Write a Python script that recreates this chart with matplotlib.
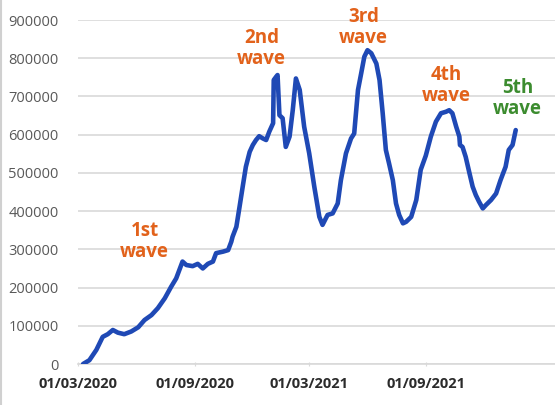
import matplotlib.pyplot as plt
from matplotlib.lines import Line2D
import pandas as pd

# Daily cases curve
dates = [
    "2020-03-09", "2020-03-19", "2020-03-30", "2020-04-09", "2020-04-17", "2020-04-25",
    "2020-05-03", "2020-05-13", "2020-05-24", "2020-06-04", "2020-06-14", "2020-06-25",
    "2020-07-05", "2020-07-16", "2020-07-26", "2020-08-03", "2020-08-08", "2020-08-13",
    "2020-08-19", "2020-08-29", "2020-09-06", "2020-09-14", "2020-09-22", "2020-09-30",
    "2020-10-05", "2020-10-16", "2020-10-24", "2020-10-29", "2020-10-31", "2020-11-06",
    "2020-11-11", "2020-11-16", "2020-11-21", "2020-11-27", "2020-12-02", "2020-12-07",
    "2020-12-12", "2020-12-18", "2020-12-23", "2020-12-28", "2021-01-03", "2021-01-04",
    "2021-01-08", "2021-01-10", "2021-01-13", "2021-01-18", "2021-01-23", "2021-01-29",
    "2021-02-03", "2021-02-08", "2021-02-14", "2021-02-21", "2021-03-01", "2021-03-09",
    "2021-03-17", "2021-03-22", "2021-03-30", "2021-04-07", "2021-04-15", "2021-04-20",
    "2021-04-28", "2021-05-06", "2021-05-11", "2021-05-17", "2021-05-22", "2021-05-27",
    "2021-06-01", "2021-06-07", "2021-06-15", "2021-06-20", "2021-06-25", "2021-06-30",
    "2021-07-05", "2021-07-11", "2021-07-16", "2021-07-21", "2021-07-27", "2021-08-01",
    "2021-08-09", "2021-08-17", "2021-08-24", "2021-09-01", "2021-09-09", "2021-09-17",
    "2021-09-25", "2021-10-03", "2021-10-08", "2021-10-13", "2021-10-19", "2021-10-24",
    "2021-10-25", "2021-10-29", "2021-11-03", "2021-11-09", "2021-11-14", "2021-11-19",
    "2021-11-24", "2021-11-30", "2021-12-05", "2021-12-13", "2021-12-21", "2021-12-28",
    "2022-01-05", "2022-01-10", "2022-01-16", "2022-01-21",
]
cases = [
    0, 10000, 37000, 71000, 78000, 89000,
    82000, 78000, 85000, 96000, 115000, 128000,
    146000, 172000, 202000, 224000, 246000, 268000,
    259000, 256000, 262000, 250000, 262000, 268000,
    290000, 294000, 298000, 320000, 333000, 359000,
    411000, 464000, 516000, 555000, 573000, 586000,
    596000, 590000, 586000, 608000, 630000, 743000,
    752000, 756000, 651000, 643000, 568000, 595000,
    664000, 747000, 717000, 621000, 551000, 464000,
    385000, 364000, 390000, 394000, 420000, 481000,
    551000, 590000, 603000, 717000, 760000, 804000,
    821000, 813000, 786000, 743000, 656000, 560000,
    525000, 481000, 420000, 390000, 368000, 372000,
    385000, 429000, 508000, 545000, 595000, 634000,
    656000, 660000, 664000, 656000, 621000, 595000,
    573000, 568000, 542000, 499000, 464000, 442000,
    425000, 407000, 416000, 429000, 446000, 481000,
    516000, 560000, 573000, 612000,
]

# wave labels: text, anchor date, anchor value, colour
wave_text = ["1st\nwave", "2nd\nwave", "3rd\nwave", "4th\nwave", "5th\nwave"]
wave_date = ["2020-06-14", "2020-12-16", "2021-05-26", "2021-10-04", "2022-01-24"]
wave_value = [320000, 825000, 880000, 728000, 695000]
wave_color = ["#E2621B", "#E2621B", "#E2621B", "#E2621B", "#3C8C2F"]

xtick_dates = ["2020-03-01", "2020-09-01", "2021-03-01", "2021-09-01"]
xtick_labels = ["01/03/2020", "01/09/2020", "01/03/2021", "01/09/2021"]
yticks = [0, 100000, 200000, 300000, 400000, 500000, 600000, 700000, 800000, 900000]

plt.rcParams['font.family'] = ['Open Sans', 'DejaVu Sans']

fig = plt.figure(figsize=(5.55, 4.05), dpi=100)
ax = fig.add_axes([78 / 555, 41 / 405, 1 - 78 / 555, 344 / 405])

ax.plot(pd.to_datetime(dates), cases, color='#1F49B5', linewidth=3.3,
        solid_joinstyle='round', solid_capstyle='round', zorder=3)

for txt, d, v, c in zip(wave_text, wave_date, wave_value, wave_color):
    ax.text(pd.Timestamp(d), v, txt, color=c, fontsize=13.5, fontweight='bold',
            ha='center', va='center', linespacing=1.1, zorder=4)

ax.set_ylim(0, 900000)
ax.set_xlim(pd.Timestamp("2020-03-03"), pd.Timestamp("2022-03-24"))
ax.set_yticks(yticks)
ax.set_yticklabels([str(v) for v in yticks])
ax.set_xticks(pd.to_datetime(xtick_dates))
ax.set_xticklabels(xtick_labels)

ax.grid(axis='y', color='#D9D9D9', linewidth=1.2)
ax.set_axisbelow(True)
for side in ['left', 'right', 'top']:
    ax.spines[side].set_visible(False)
ax.spines['bottom'].set_color('#D9D9D9')
ax.spines['bottom'].set_linewidth(1.2)

ax.tick_params(axis='y', length=0, pad=14, labelsize=10.5, labelcolor='#595959')
ax.tick_params(axis='x', length=3, direction='inout', color='#D9D9D9', pad=8,
               labelsize=10.5, labelcolor='#2B2B2B')
for lbl in ax.get_xticklabels():
    lbl.set_fontweight('bold')

# thin chart border on the left edge
fig.add_artist(Line2D([0.002, 0.002], [0, 1], color='#D0D0D0', linewidth=1.5))

fig.savefig('out.png', dpi=100)
